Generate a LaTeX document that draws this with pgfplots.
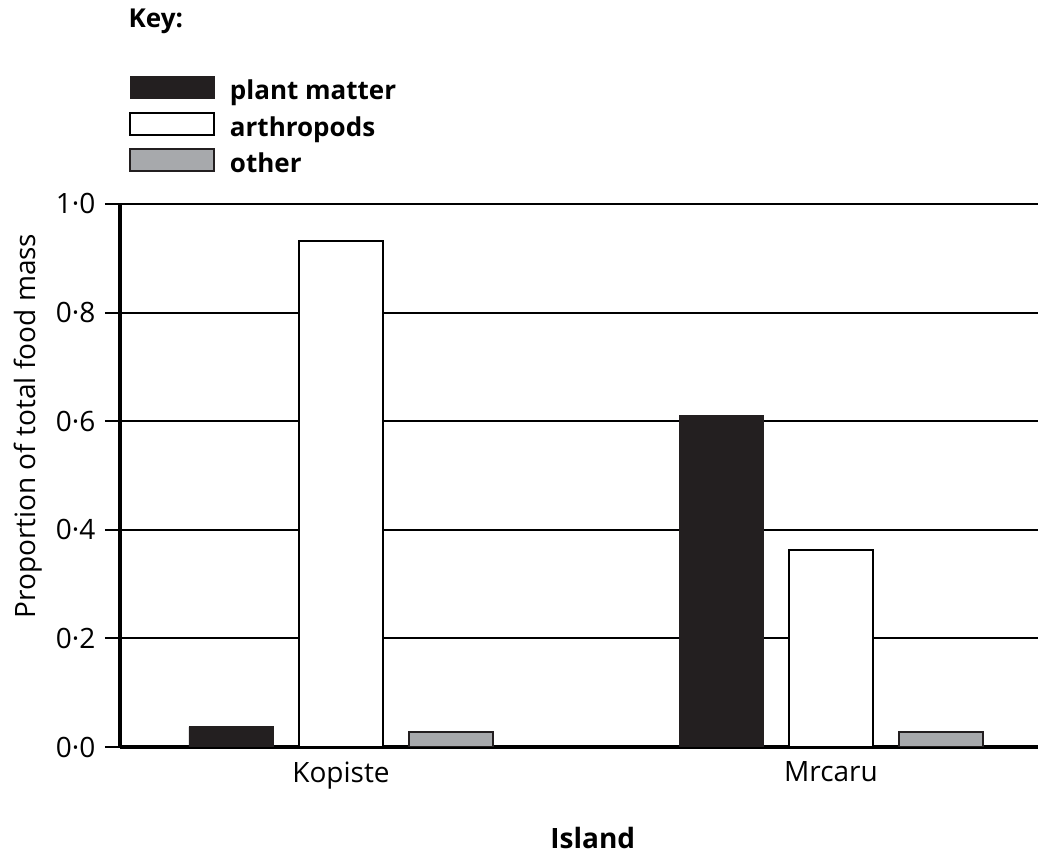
\documentclass[border=0pt]{standalone}
\usepackage{fontspec}
\setmainfont{Open Sans}
\usepackage{pgfplots}
\pgfplotsset{compat=1.18}
\definecolor{plantc}{HTML}{231F20}
\definecolor{otherc}{HTML}{A7A9AC}
\begin{document}
\fontsize{14pt}{17pt}\selectfont
\begin{tikzpicture}
\path[use as bounding box] (0,0) rectangle (520pt,427pt);
\begin{axis}[
  at={(60pt,53.5pt)}, anchor=south west,
  scale only axis, width=459pt, height=271.5pt,
  xmin=-0.451, xmax=1.4224, ymin=0, ymax=1,
  clip mode=individual,
  axis x line*=bottom, axis y line*=left,
  x axis line style={line width=1.75pt},
  y axis line style={line width=2pt},
  xtick={0,1}, xticklabels={Kopiste,Mrcaru},
  xtick style={draw=none},
  xticklabel style={yshift=5pt},
  ytick={0,0.2,0.4,0.6,0.8,1},
  yticklabels={0·0,0·2,0·4,0·6,0·8,1·0},
  tick align=outside, major tick length=7.5pt,
  ytick style={line width=1pt, black},
  ymajorgrids, grid style={line width=1pt, black},
  legend style={at={(0.0098,1.236)}, anchor=north west, draw=none, fill=none,
    inner sep=0pt, outer sep=0pt, row sep=3pt, column sep=7.5pt,
    font=\fontsize{13pt}{15pt}\selectfont\bfseries, nodes={inner sep=0pt, text height=10pt, text depth=3pt}},
  legend cell align=left,
]
\addplot[ybar, bar width=0.1714, bar shift=-0.2245, fill=plantc, draw=plantc,
  legend image code/.code={\draw[fill=plantc,draw=plantc] (0pt,-2.75pt) rectangle (42pt,8.25pt);}]
  coordinates {(0,0.037) (1,0.611)};
\addlegendentry{plant matter}
\addplot[ybar, bar width=0.1714, bar shift=0, fill=white, draw=black, line width=1pt,
  legend image code/.code={\draw[fill=white,draw=black,line width=1pt] (0pt,-2.75pt) rectangle (42pt,8.25pt);}]
  coordinates {(0,0.932) (1,0.363)};
\addlegendentry{arthropods}
\addplot[ybar, bar width=0.1714, bar shift=0.2245, fill=otherc, draw=plantc, line width=1pt,
  legend image code/.code={\draw[fill=otherc,draw=plantc,line width=1pt] (0pt,-2.75pt) rectangle (42pt,8.25pt);}]
  coordinates {(0,0.028) (1,0.028)};
\addlegendentry{other}
\node[anchor=west, font=\fontsize{13pt}{15pt}\selectfont\bfseries, inner sep=0pt] at (axis description cs:0.009,1.336) {Key:};
\node[rotate=90, inner sep=0pt] at (axis description cs:-0.1,0.591) {Proportion of total food mass};
\node[font=\bfseries, inner sep=0pt] at (axis description cs:0.515,-0.1676) {Island};
\end{axis}
\end{tikzpicture}
\end{document}
